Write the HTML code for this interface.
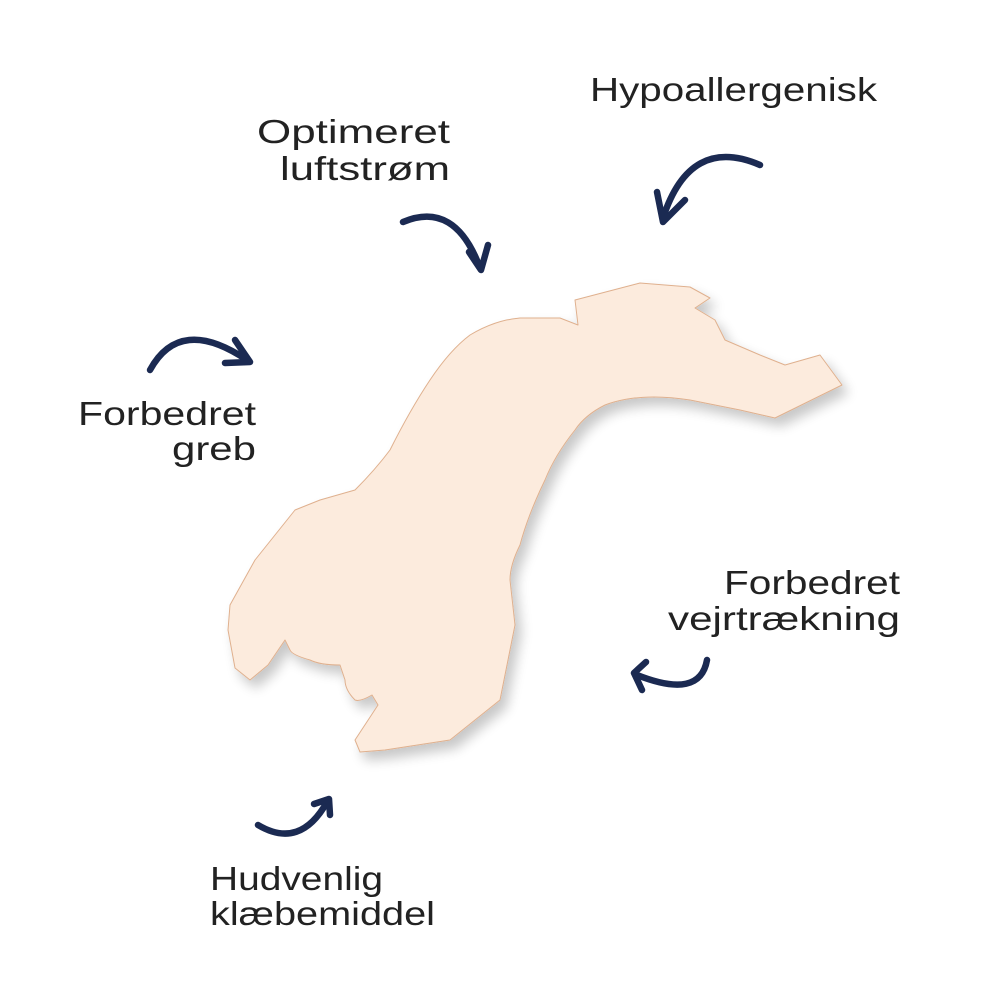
<!DOCTYPE html>
<html><head><meta charset="utf-8"><style>
html,body{margin:0;padding:0;background:#fff;width:1000px;height:1000px;overflow:hidden}
svg{display:block}
text{font-family:"Liberation Sans",sans-serif;font-size:33px;fill:#222}
</style></head><body>
<svg width="1000" height="1000" viewBox="0 0 1000 1000">
<defs>
<filter id="sh" x="-20%" y="-20%" width="140%" height="140%">
<feGaussianBlur in="SourceAlpha" stdDeviation="6"/>
<feOffset dx="6" dy="8" result="b"/>
<feComponentTransfer><feFuncA type="linear" slope="0.22"/></feComponentTransfer>
<feMerge><feMergeNode/><feMergeNode in="SourceGraphic"/></feMerge>
</filter>
</defs>
<path filter="url(#sh)" fill="#fcebdd" stroke="#dfb08e" stroke-width="1" stroke-linejoin="round"
d="M575,300 L640,283 L690,287 L710,298 L695,308 L715,320 L725,340 L760,355 L785,365 L820,355 L842,385 L775,418 L740,410 L690,400 Q640,392 605,405 Q585,415 575,430 Q555,455 545,480 Q528,515 520,545 Q510,565 510,580 L515,625 L500,700 L450,740 L385,750 L360,752 L355,740 L378,705 L372,695 Q360,702 355,700 Q345,690 345,680 L340,665 Q320,665 310,660 Q292,655 290,650 L285,640 L268,665 L250,680 L235,668 L228,630 L230,605 L255,560 L295,510 L320,500 L355,490 Q375,470 390,450 Q410,410 430,380 Q450,350 470,335 Q495,320 520,318 L560,318 L578,325 Z"/>
<g fill="none" stroke="#1b2a52" stroke-width="6.5" stroke-linecap="round" stroke-linejoin="round">
<path d="M403,222 Q455,200 480,268"/><path d="M469,252 L481,270 L488,245"/>
<path d="M760,165 Q690,135 663,218"/><path d="M657,192 L663,222 L685,200"/>
<path d="M150,370 Q180,315 247,360"/><path d="M235,340 L250,362 L225,363"/>
<path d="M707,660 Q700,700 637,675"/><path d="M646,662 L634,673 L642,690"/>
<path d="M258,825 Q300,850 327,802"/><path d="M314,804 L329,799 L330,815"/>
</g>
<text x="590" y="101" textLength="287" lengthAdjust="spacingAndGlyphs">Hypoallergenisk</text>
<text x="257" y="143" textLength="193" lengthAdjust="spacingAndGlyphs">Optimeret</text>
<text x="280" y="180" textLength="170" lengthAdjust="spacingAndGlyphs">luftstrøm</text>
<text x="78" y="425" textLength="178" lengthAdjust="spacingAndGlyphs">Forbedret</text>
<text x="172" y="460" textLength="84" lengthAdjust="spacingAndGlyphs">greb</text>
<text x="724" y="594" textLength="176" lengthAdjust="spacingAndGlyphs">Forbedret</text>
<text x="668" y="630" textLength="232" lengthAdjust="spacingAndGlyphs">vejrtrækning</text>
<text x="210" y="890" textLength="173" lengthAdjust="spacingAndGlyphs">Hudvenlig</text>
<text x="210" y="925" textLength="225" lengthAdjust="spacingAndGlyphs">klæbemiddel</text>
</svg>
</body></html>
